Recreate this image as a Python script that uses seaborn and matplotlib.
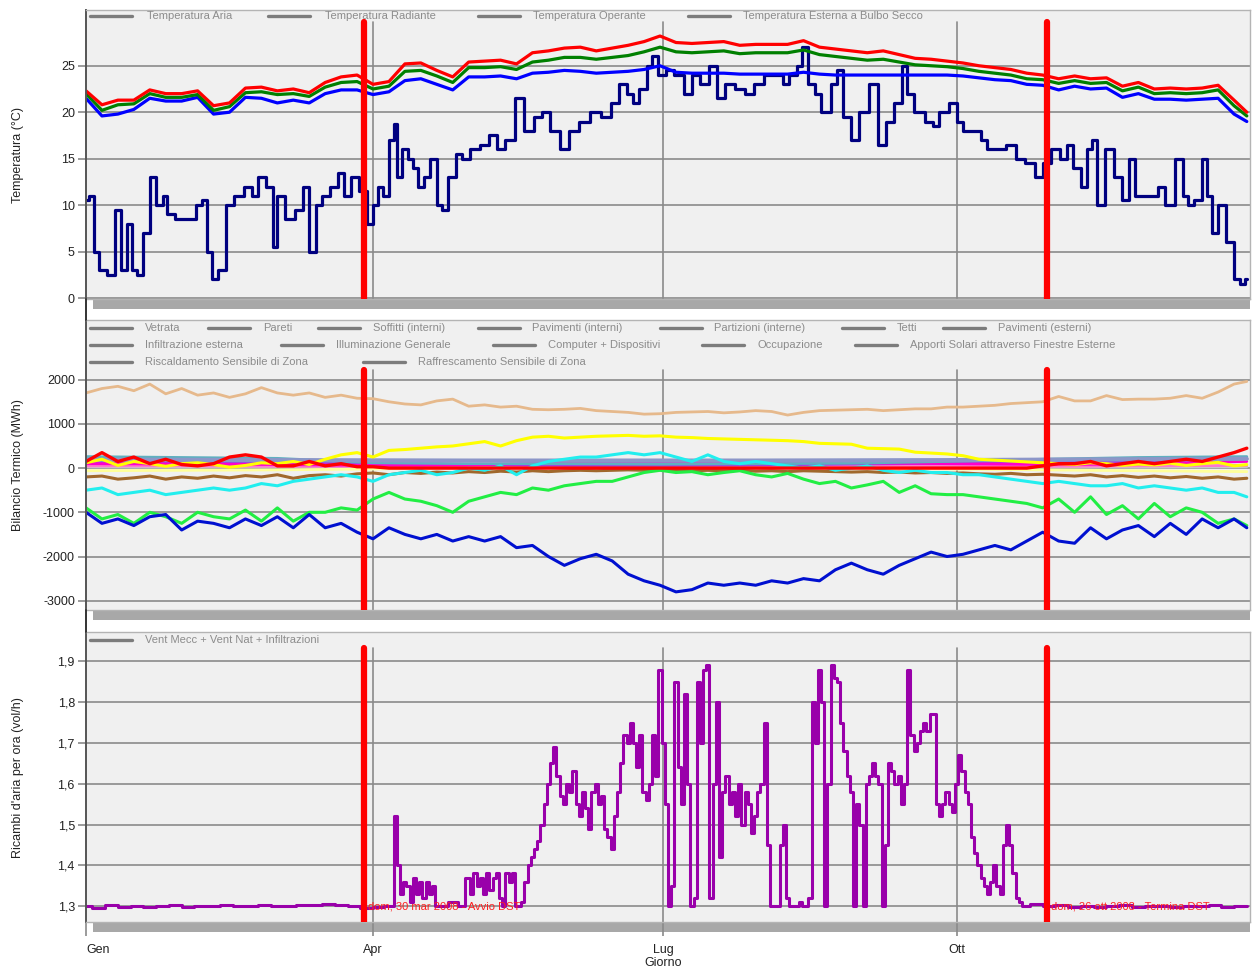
import matplotlib
matplotlib.use("Agg")
import matplotlib.pyplot as plt
from matplotlib.lines import Line2D
from matplotlib.patches import Rectangle
import seaborn as sns

# ---------------------------------------------------------------- data
# day of year (0 = 1 Jan), sampled every 5 days
days = list(range(0, 361, 5)) + [364]
# coarse grid for the nearly flat heat-balance components
days_c = [0, 30, 60, 90, 120, 150, 180, 210, 240, 270, 300, 330, 364]

# temperatures (°C)
t_aria = [21.5, 19.6, 19.8, 20.3, 21.5, 21.2, 21.2, 21.6, 19.8, 20.0,
          21.6, 21.5, 21.0, 21.3, 21.0, 22.0, 22.4, 22.4, 21.9, 22.2,
          23.4, 23.6, 23.0, 22.4, 23.8, 23.8, 23.9, 23.6, 24.2, 24.3,
          24.5, 24.4, 24.2, 24.3, 24.4, 24.6, 25.0, 24.3, 24.2, 24.2,
          24.2, 24.1, 24.1, 24.1, 24.1, 24.3, 24.1, 24.0, 24.0, 24.0,
          24.0, 24.0, 24.0, 24.0, 24.0, 23.9, 23.7, 23.5, 23.4, 23.0,
          22.9, 22.4, 22.8, 22.5, 22.6, 21.6, 22.0, 21.4, 21.4, 21.3,
          21.4, 21.5, 19.8, 19.0]
t_radiante = [22.3, 20.8, 21.3, 21.3, 22.4, 22.0, 22.0, 22.3, 20.7, 21.0,
              22.6, 22.7, 22.3, 22.5, 22.1, 23.2, 23.8, 24.0, 23.0, 23.3,
              25.2, 25.3, 24.5, 23.8, 25.4, 25.5, 25.6, 25.2, 26.4, 26.6,
              26.9, 27.0, 26.6, 26.9, 27.2, 27.6, 28.2, 27.5, 27.4, 27.5,
              27.6, 27.2, 27.3, 27.3, 27.3, 27.7, 27.0, 26.8, 26.6, 26.4,
              26.6, 26.2, 25.8, 25.7, 25.5, 25.3, 25.0, 24.8, 24.6, 24.2,
              24.0, 23.6, 23.9, 23.6, 23.7, 22.8, 23.2, 22.5, 22.6, 22.5,
              22.6, 22.9, 21.3, 20.0]
t_operante = [22.0, 20.2, 20.8, 20.9, 22.0, 21.6, 21.6, 21.9, 20.2, 20.6,
              22.1, 22.2, 21.9, 22.0, 21.7, 22.7, 23.2, 23.3, 22.5, 22.8,
              24.4, 24.5, 23.9, 23.2, 24.8, 24.8, 24.9, 24.6, 25.4, 25.6,
              25.9, 25.9, 25.7, 25.9, 26.1, 26.5, 27.0, 26.5, 26.4, 26.5,
              26.6, 26.3, 26.4, 26.4, 26.4, 26.7, 26.2, 26.0, 25.8, 25.6,
              25.7, 25.4, 25.1, 25.0, 24.9, 24.7, 24.4, 24.2, 24.0, 23.6,
              23.5, 23.1, 23.4, 23.1, 23.2, 22.3, 22.7, 22.0, 22.1, 22.0,
              22.1, 22.4, 20.7, 19.6]
# outdoor dry-bulb, read at irregular days
est_days = [0, 2, 3, 5, 8, 10, 12, 14, 15, 17, 19, 21, 23, 25, 26, 30, 33, 36, 37, 39,
            40, 43, 45, 48, 51, 53, 55, 58, 59, 61, 64, 67, 69, 71, 73, 75, 78, 80, 82, 84,
            87, 89, 91, 92, 94, 96, 97, 98, 100, 102, 103, 105, 107, 109, 111, 112, 115, 117, 119, 122,
            125, 128, 130, 133, 136, 139, 142, 144, 147, 150, 153, 156, 160, 163, 166, 168, 171, 172, 175, 177,
            178, 181, 183, 186, 189, 191, 194, 197, 199, 202, 205, 208, 211, 214, 218, 219, 222, 224, 225, 228,
            229, 232, 235, 236, 239, 241, 244, 247, 250, 252, 255, 257, 258, 261, 265, 266, 269, 272, 274, 276,
            279, 282, 283, 287, 290, 293, 296, 299, 301, 304, 307, 308, 311, 313, 315, 316, 318, 321, 324, 326,
            328, 330, 332, 335, 337, 340, 343, 345, 346, 349, 351, 352, 354, 356, 359, 361, 363, 364]
t_esterna = [10.5, 11.0, 5.0, 3.0, 2.5, 9.5, 3.0, 8.0, 3.0, 2.5, 7.0, 13.0, 10.0, 11.0, 9.0, 8.5, 8.5, 10.0, 10.5, 5.0,
             2.0, 3.0, 10.0, 11.0, 12.0, 11.0, 13.0, 12.0, 5.5, 11.0, 8.5, 9.5, 12.0, 5.0, 10.0, 11.0, 12.0, 13.5, 11.0, 13.0,
             11.5, 8.0, 10.0, 12.0, 11.0, 17.0, 18.7, 13.0, 16.0, 15.0, 14.0, 12.0, 13.0, 15.0, 10.0, 9.5, 13.0, 15.5, 15.0, 16.0,
             16.5, 17.5, 16.0, 17.0, 21.5, 18.0, 19.5, 20.0, 18.0, 16.0, 18.0, 19.0, 20.0, 19.5, 21.0, 23.0, 22.0, 21.0, 22.5, 25.0,
             26.0, 24.0, 24.5, 24.0, 22.0, 24.0, 23.0, 25.0, 21.5, 23.0, 22.5, 22.0, 23.0, 24.0, 24.0, 23.0, 24.0, 25.0, 27.0, 23.0,
             22.0, 20.0, 23.0, 24.5, 19.5, 17.0, 20.0, 23.0, 16.5, 19.0, 21.0, 25.0, 22.0, 20.0, 19.0, 18.5, 20.0, 21.0, 19.0, 18.0,
             18.0, 17.0, 16.0, 16.0, 16.5, 15.0, 14.5, 13.0, 14.5, 16.0, 15.0, 16.5, 14.0, 12.0, 16.0, 17.0, 10.0, 16.0, 13.0, 10.5,
             15.0, 11.0, 11.0, 11.0, 12.0, 10.0, 15.0, 11.0, 10.0, 10.5, 15.0, 11.0, 7.0, 10.0, 6.0, 2.0, 1.5, 2.0]

# heat balance components (MWh)
q_vetrata = [-900, -1150, -1050, -1250, -1000, -1100, -1250, -1000, -1100, -1150,
             -950, -1200, -900, -1200, -1000, -1000, -900, -950, -700, -550,
             -700, -750, -850, -1000, -750, -650, -550, -600, -450, -500,
             -400, -350, -300, -300, -200, -100, -50, -100, -80, -150,
             -100, -60, -150, -200, -120, -250, -350, -300, -450, -380,
             -300, -550, -400, -580, -600, -600, -650, -700, -750, -800,
             -900, -700, -1000, -650, -1050, -850, -1150, -800, -1100, -900,
             -1000, -1250, -1150, -1300]
q_pareti = [-500, -450, -600, -550, -500, -600, -550, -500, -450, -500,
            -450, -350, -400, -300, -250, -200, -150, -200, -300, -150,
            -100, -50, -150, -100, 0, -50, 50, -150, 50, 150,
            200, 250, 250, 300, 350, 300, 350, 250, 150, 300,
            150, 100, 150, 100, 50, 0, 50, -50, 0, 50,
            -50, -100, -50, -100, -100, -150, -150, -200, -250, -300,
            -350, -300, -350, -400, -400, -350, -450, -400, -450, -500,
            -450, -550, -550, -650]
q_pav_est = [-200, -180, -250, -220, -180, -250, -200, -230, -180, -220,
             -170, -200, -150, -230, -170, -150, -180, -130, -110, -150,
             -100, -120, -90, -110, -80, -100, -70, -90, -60, -80,
             -60, -50, -60, -50, -40, -50, -40, -50, -60, -50,
             -60, -50, -70, -60, -80, -60, -70, -80, -90, -80,
             -100, -90, -110, -100, -120, -110, -130, -140, -120, -150,
             -140, -160, -180, -150, -200, -170, -210, -180, -220, -190,
             -230, -200, -250, -230]
q_computer = [1700, 1800, 1850, 1750, 1900, 1680, 1800, 1650, 1700, 1600,
              1680, 1820, 1700, 1650, 1700, 1600, 1650, 1580, 1570, 1500,
              1450, 1430, 1520, 1560, 1400, 1430, 1380, 1400, 1330, 1320,
              1330, 1350, 1300, 1280, 1260, 1220, 1230, 1260, 1270, 1280,
              1250, 1270, 1300, 1280, 1200, 1260, 1300, 1310, 1320, 1330,
              1300, 1320, 1340, 1340, 1380, 1380, 1400, 1420, 1460, 1480,
              1500, 1620, 1520, 1520, 1640, 1550, 1560, 1560, 1580, 1640,
              1580, 1720, 1900, 1960]
q_solari = [120, 200, 60, 150, 100, 40, 100, 120, 80, 20,
            60, 120, 100, 150, 80, 200, 300, 350, 250, 400,
            420, 450, 480, 500, 550, 600, 500, 620, 700, 720,
            680, 700, 720, 730, 740, 720, 730, 700, 690, 670,
            660, 650, 640, 630, 620, 600, 560, 550, 540, 450,
            440, 430, 360, 340, 320, 280, 200, 180, 160, 140,
            120, 100, 80, 120, 100, 60, 90, 70, 110, 60,
            100, 130, 50, 80]
q_raffrescamento = [-1000, -1250, -1150, -1300, -1100, -1050, -1400, -1200, -1250, -1350,
                    -1150, -1300, -1100, -1350, -1050, -1350, -1250, -1450, -1600, -1350,
                    -1500, -1600, -1500, -1650, -1550, -1650, -1550, -1800, -1750, -2000,
                    -2200, -2050, -1950, -2100, -2400, -2550, -2650, -2800, -2750, -2600,
                    -2650, -2600, -2650, -2550, -2600, -2500, -2550, -2300, -2150, -2300,
                    -2400, -2200, -2050, -1900, -2000, -1950, -1850, -1750, -1850, -1650,
                    -1450, -1650, -1700, -1350, -1600, -1400, -1300, -1550, -1250, -1500,
                    -1150, -1350, -1150, -1350]
q_riscaldamento = [150, 350, 150, 250, 100, 200, 80, 50, 100, 250,
                   300, 250, 50, 50, 150, 50, 100, 30, 30, 0,
                   0, 0, 0, 0, 0, 0, 0, 0, 0, 0,
                   0, 0, 0, 0, 0, 0, 0, 0, 0, 0,
                   0, 0, 0, 0, 0, 0, 0, 0, 0, 0,
                   0, 0, 0, 0, 0, 0, 0, 0, 0, 0,
                   50, 100, 100, 150, 50, 100, 150, 100, 150, 200,
                   150, 250, 350, 450]
q_illuminazione = [190, 185, 180, 175, 170, 170, 170, 170, 175, 180, 190, 200, 210]
q_infiltrazione = [260, 240, 220, 120, 100, 100, 90, 100, 110, 150, 200, 240, 260]
q_soffitti = [100, 90, 80, 60, 70, 120, 140, 130, 120, 100, 80, 90, 150]
q_pav_int = [140, 130, 120, 100, 80, 60, 60, 70, 90, 110, 120, 150, 200]
q_partizioni = [30, 20, 40, 40, 50, 60, 60, 60, 50, 40, 30, 20, 30]
q_tetti = [-60, -50, -40, -20, 10, 30, 40, 30, 0, -20, -40, -60, -80]
q_occupazione = [50, 50, 40, 40, 50, 60, 60, 60, 50, 50, 40, 50, 60]

# air changes per hour (vol/h)
ach_days = (list(range(0, 93, 4)) + [95] + list(range(96, 111)) + [112, 115, 118]
            + list(range(120, 295)) + list(range(298, 363, 4)) + [364])
ach = ([1.300, 1.295, 1.302, 1.297, 1.301, 1.298, 1.300, 1.303, 1.299, 1.301,
        1.300, 1.302, 1.300, 1.301, 1.303, 1.300, 1.301, 1.303, 1.302, 1.304,
        1.303, 1.300, 1.296, 1.299, 1.300]
       + [1.30, 1.52, 1.40, 1.33, 1.36, 1.35, 1.31, 1.37, 1.33, 1.36, 1.32, 1.36, 1.33, 1.35, 1.30]
       + [1.30, 1.31, 1.30]
       + [1.37, 1.33, 1.38, 1.35, 1.37, 1.33, 1.38, 1.34, 1.37, 1.38,
          1.32, 1.30, 1.38, 1.36, 1.38, 1.30, 1.30, 1.31, 1.36, 1.40,
          1.42, 1.44, 1.46, 1.50, 1.55, 1.60, 1.65, 1.69, 1.62, 1.57,
          1.55, 1.60, 1.58, 1.63, 1.55, 1.52, 1.58, 1.54, 1.49, 1.58,
          1.60, 1.55, 1.57, 1.49, 1.47, 1.44, 1.52, 1.58, 1.65, 1.72,
          1.70, 1.75, 1.70, 1.64, 1.72, 1.58, 1.56, 1.60, 1.72, 1.62,
          1.88, 1.70, 1.55, 1.30, 1.35, 1.85, 1.64, 1.55, 1.82, 1.60,
          1.30, 1.32, 1.85, 1.70, 1.88, 1.89, 1.32, 1.60, 1.80, 1.42,
          1.58, 1.62, 1.55, 1.58, 1.52, 1.60, 1.50, 1.58, 1.55, 1.48,
          1.52, 1.58, 1.60, 1.75, 1.45, 1.30, 1.30, 1.30, 1.45, 1.50,
          1.32, 1.30, 1.30, 1.30, 1.31, 1.30, 1.30, 1.32, 1.80, 1.70,
          1.88, 1.80, 1.30, 1.60, 1.89, 1.86, 1.85, 1.75, 1.68, 1.62,
          1.58, 1.30, 1.55, 1.50, 1.30, 1.60, 1.62, 1.65, 1.62, 1.60,
          1.30, 1.45, 1.65, 1.63, 1.60, 1.62, 1.55, 1.60, 1.88, 1.72,
          1.68, 1.70, 1.73, 1.75, 1.73, 1.77, 1.77, 1.55, 1.52, 1.55,
          1.58, 1.55, 1.53, 1.60, 1.67, 1.63, 1.58, 1.55, 1.47, 1.43,
          1.40, 1.37, 1.35, 1.33, 1.36, 1.40, 1.35, 1.33, 1.45, 1.50,
          1.45, 1.38, 1.32, 1.31, 1.30]
       + [1.305, 1.300, 1.302, 1.299, 1.301, 1.298, 1.300, 1.302, 1.299, 1.301,
          1.300, 1.298, 1.301, 1.300, 1.302, 1.299, 1.301, 1.300])

# month ticks and daylight-saving events
month_days = [0, 90, 181, 273]
month_labels = ["Gen", "Apr", "Lug", "Ott"]
dst_days = [87.3, 301.5]
dst_labels = ["dom, 30 mar 2008 - Avvio DST", "dom, 26 ott 2008 - Termina DST"]

temp_labels = ["Temperatura Aria", "Temperatura Radiante", "Temperatura Operante",
               "Temperatura Esterna a Bulbo Secco"]
bal_labels = ["Vetrata", "Pareti", "Soffitti (interni)", "Pavimenti (interni)",
              "Partizioni (interne)", "Tetti", "Pavimenti (esterni)",
              "Infiltrazione esterna", "Illuminazione Generale", "Computer + Dispositivi",
              "Occupazione", "Apporti Solari attraverso Finestre Esterne",
              "Riscaldamento Sensibile di Zona", "Raffrescamento Sensibile di Zona"]
ach_labels = ["Vent Mecc + Vent Nat + Infiltrazioni"]

# ---------------------------------------------------------------- figure
sns.set_theme(style="white")
plt.rcParams["font.family"] = ["Liberation Sans", "DejaVu Sans"]

W, H = 1253, 974
fig = plt.figure(figsize=(W / 100, H / 100), dpi=100)
fig.patch.set_facecolor("white")

GRID = "#8a8a8a"
panels = [(10, 299), (320, 610), (632, 922)]   # top / bottom in pixels
axes = []
for top, bot in panels:
    ax = fig.add_axes([86 / W, 1 - bot / H, (1250 - 86) / W, (bot - top) / H])
    ax.set_facecolor("#f0f0f0")
    for side, sp in ax.spines.items():
        sp.set_color("#b4b4b4")
        sp.set_linewidth(1.0)
    ax.spines["left"].set_color("#555555")
    ax.spines["left"].set_linewidth(1.4)
    ax.set_xlim(0, 365)
    ax.grid(axis="y", color=GRID, linewidth=1.2)
    ax.set_axisbelow(True)
    ax.tick_params(axis="y", length=6, width=1.2, color=GRID, labelsize=9,
                   labelcolor="#222222", pad=2, left=True)
    axes.append(ax)

ax1, ax2, ax3 = axes
vtop = [0.958, 0.828, 0.945]   # vertical lines start under the legend block


def line(ax, x, y, color, lw=2.2, z=2, style="default"):
    sns.lineplot(x=x, y=y, ax=ax, color=color, linewidth=lw, errorbar=None,
                 legend=False, zorder=z, drawstyle=style)


# --- temperatures
line(ax1, est_days, t_esterna, "#000080", 2.3, style="steps-mid")
line(ax1, days, t_aria, "#0000ff", 2.3)
line(ax1, days, t_operante, "#008000", 2.3)
line(ax1, days, t_radiante, "#ff0000", 2.3)
ax1.set_ylim(-0.1, 31.0)
ax1.set_yticks([0, 5, 10, 15, 20, 25])
ax1.set_yticklabels(["0", "5", "10", "15", "20", "25"])

# --- heat balance
line(ax2, days_c, q_partizioni, "#c8c8c8", 2.0)
line(ax2, days_c, q_tetti, "#ffff99", 2.0)
line(ax2, days_c, q_occupazione, "#ff77cc", 2.0)
line(ax2, days_c, q_pav_int, "#a040e0", 2.0)
line(ax2, days_c, q_soffitti, "#ff00cc", 2.0)
line(ax2, days_c, q_infiltrazione, "#5fb0c0", 2.0)
line(ax2, days_c, q_illuminazione, "#8c96c8", 3.0)
line(ax2, days, q_computer, "#e6b98c", 2.0)
line(ax2, days, q_pav_est, "#a0682c", 2.2)
line(ax2, days, q_solari, "#ffff00", 2.2)
line(ax2, days, q_pareti, "#22eeee", 2.2)
line(ax2, days, q_vetrata, "#22ee44", 2.2)
line(ax2, days, q_raffrescamento, "#0010d0", 2.2)
line(ax2, days, q_riscaldamento, "#ff0000", 2.4)
ax2.set_ylim(-3210, 3350)
ax2.set_yticks([-3000, -2000, -1000, 0, 1000, 2000])
ax2.set_yticklabels(["-3000", "-2000", "-1000", "0", "1000", "2000"])

# --- air changes
line(ax3, ach_days, ach, "#9900aa", 2.2, style="steps-mid")
ax3.set_ylim(1.261, 1.972)
ach_ticks = [1.3, 1.4, 1.5, 1.6, 1.7, 1.8, 1.9]
ax3.set_yticks(ach_ticks)
ax3.set_yticklabels([f"{t:.1f}".replace(".", ",") for t in ach_ticks])

for ax, vt in zip(axes, vtop):
    for d in month_days[1:]:
        ax.axvline(d, ymin=0, ymax=vt, color=GRID, linewidth=1.2, zorder=1)
    for d in dst_days:
        ax.axvline(d, ymin=0, ymax=vt, color="#ff0000", linewidth=4.5, zorder=5)
    ax.set_xlabel("")
    ax.set_ylabel("")

for d, lab in zip(dst_days, dst_labels):
    ax3.text(d + 1.2, 1.30, lab, color="#ff2020", fontsize=8, va="center",
             ha="left", zorder=6)

for ax in (ax1, ax2):
    ax.set_xticks([])
ax3.set_xticks(month_days)
ax3.set_xticklabels(month_labels)
ax3.tick_params(axis="x", length=10, width=1.2, color=GRID, labelsize=9,
                labelcolor="#222222", pad=6, bottom=True)
ax3.get_xticklabels()[0].set_ha("left")

# scrollbar strips under each panel
for top, bot in panels:
    fig.add_artist(Rectangle((93 / W, 1 - (bot + 10) / H), (1250 - 93) / W, 9 / H,
                             transform=fig.transFigure, facecolor="#a8a8a8",
                             edgecolor="none", zorder=-1))
# left rule joining the panels
for y0, y1 in [(299, 320), (610, 632)]:
    fig.add_artist(Line2D([86 / W, 86 / W], [1 - y0 / H, 1 - y1 / H],
                          transform=fig.transFigure, color="#333333", lw=1.4))

# legends: grey sample line followed by grey caption
def legend_row(y_px, entries):
    for x_line, x_text, lab in entries:
        fig.add_artist(Line2D([x_line / W, (x_line + 42) / W], [1 - y_px / H] * 2,
                              transform=fig.transFigure, color="#7c7c7c", lw=2.4))
        fig.text(x_text / W, 1 - y_px / H, lab, color="#8c8c8c", fontsize=8,
                 va="center", ha="left")


legend_row(16, list(zip([90, 268, 478, 688], [147, 325, 533, 743], temp_labels)))
legend_row(328, list(zip([90, 208, 318, 478, 660, 842, 943],
                         [145, 263, 373, 532, 714, 897, 998], bal_labels[0:7])))
legend_row(345, list(zip([90, 281, 493, 702, 855],
                         [145, 336, 548, 757, 910], bal_labels[7:12])))
legend_row(362, list(zip([90, 363], [145, 418], bal_labels[12:14])))
legend_row(640, list(zip([90], [145], ach_labels)))

# axis titles
fig.text(18 / W, 1 - 155 / H, "Temperatura (°C)", rotation=90, ha="center",
         va="center", fontsize=9, color="#222222")
fig.text(18 / W, 1 - 465 / H, "Bilancio Termico (MWh)", rotation=90, ha="center",
         va="center", fontsize=9, color="#222222")
fig.text(18 / W, 1 - 778 / H, "Ricambi d'aria per ora (vol/h)", rotation=90,
         ha="center", va="center", fontsize=9, color="#222222")
fig.text(663 / W, 1 - 963 / H, "Giorno", ha="center", va="center", fontsize=9,
         color="#222222")

fig.savefig("out.png", dpi=100, facecolor="white")
